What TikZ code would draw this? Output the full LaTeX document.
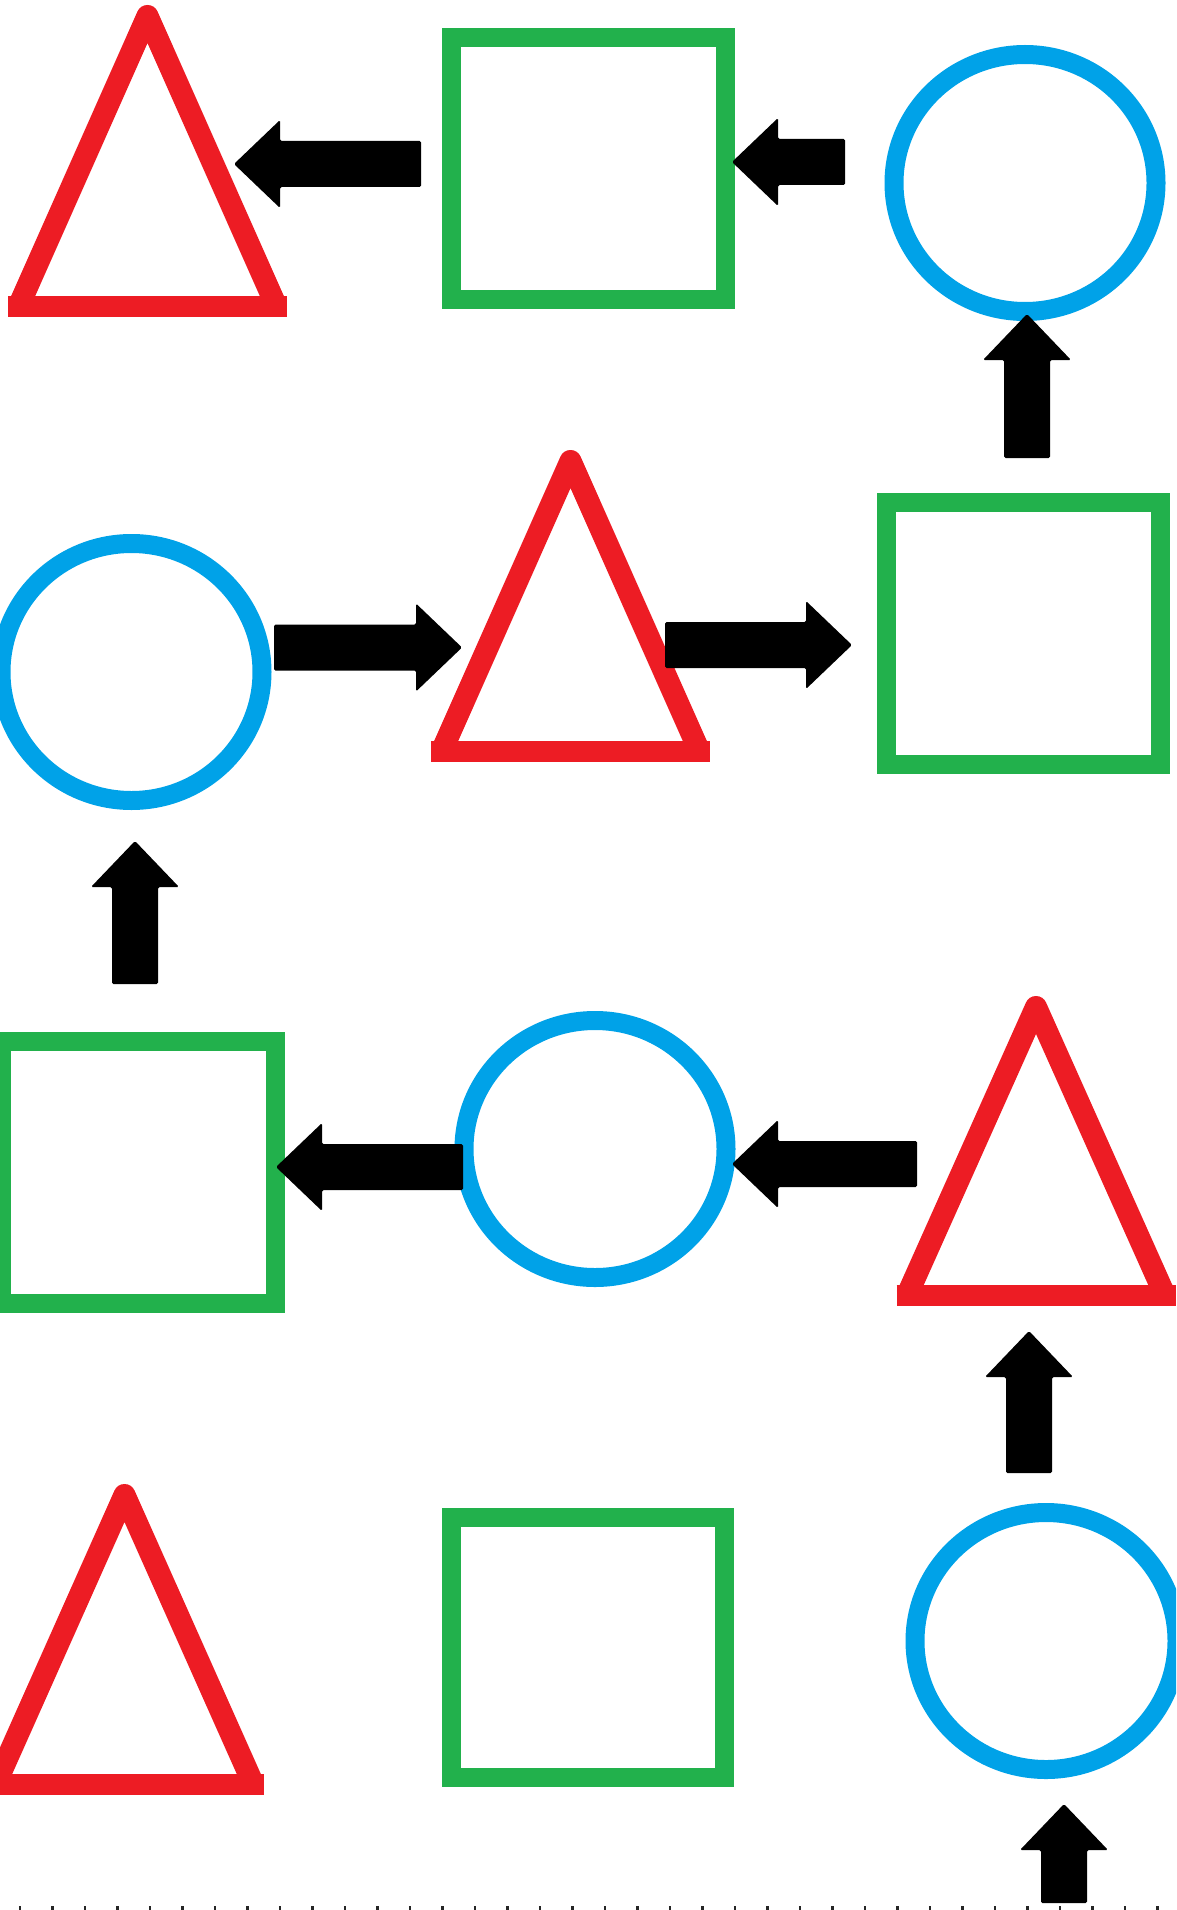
\documentclass[tikz,border=0pt]{standalone}
\usetikzlibrary{calc}
\definecolor{pred}{RGB}{237,28,36}
\definecolor{pgreen}{RGB}{34,177,76}
\definecolor{pblue}{RGB}{0,162,232}
\tikzset{
  trisides/.style={draw=pred, line width=22pt, line join=round, line cap=butt},
  tribase/.style={draw=pred, line width=21pt, line cap=butt},
  sq/.style={draw=pgreen, line width=19pt, line join=miter},
  circ/.style={draw=pblue, line width=19pt},
  pics/barrow/.style={code={
    \fill[black, rounded corners=1.5pt] (0,0) -- (-46,44) -- (-46,23) -- (-#1,23)
      -- (-#1,-23) -- (-46,-23) -- (-46,-44) -- cycle;}},
  ticks/.style={draw=black!85, line width=4pt, dash pattern=on 2.5pt off 30pt}
}
% name, centre x, outer apex y, outer base y, outer half width
\newcommand\redtri[5]{%
  \coordinate (#1) at (#2,{(#3+#4)/2});
  \draw[trisides] ({#2-#5+10.5},{#4-10.5}) -- (#2,{#3+11}) -- ({#2+#5-10.5},{#4-10.5});
  \draw[tribase] ({#2-#5},{#4-10.5}) -- ({#2+#5},{#4-10.5});
}
\begin{document}
\begin{tikzpicture}[x=1pt,y=-1pt]
\useasboundingbox (0,0) rectangle (1176,1910);
\begin{scope}
\clip (0,0) rectangle (1176,1910);
% row 1
\redtri{t1}{147.5}{5}{317}{139.5}
\draw[sq] (451.5,37.5) rectangle (725.5,299.5); \coordinate (s1) at (588.5,168.5);
\draw[circ] (1025,183) ellipse [x radius=131, y radius=128.5]; \coordinate (c1) at (1025,183);
% row 2
\draw[circ] (131.5,672) ellipse [x radius=130.5, y radius=128.5]; \coordinate (c2) at (131.5,672);
\redtri{t2}{570.5}{450}{762}{139.5}
\draw[sq] (886.5,502.5) rectangle (1160.5,764.5); \coordinate (s2) at (1023.5,633.5);
% row 3
\draw[sq] (1.5,1041.5) rectangle (275.5,1303.5); \coordinate (s3) at (138.5,1172.5);
\draw[circ] (595,1149) ellipse [x radius=131, y radius=128.5]; \coordinate (c3) at (595,1149);
\redtri{t3}{1036}{996}{1306}{139.5}
% row 4
\redtri{t4}{124.5}{1484}{1795}{139.5}
\draw[sq] (451.5,1517.5) rectangle (724.5,1777.5); \coordinate (s4) at (588,1647.5);
\draw[circ] (1046,1641) ellipse [x radius=131, y radius=128.5]; \coordinate (c4) at (1046,1641);
\end{scope}
% arrow tips
\coordinate (a1) at (234,164);
\coordinate (a2) at (732,162);
\coordinate (a3) at (1027,314);
\coordinate (a4) at (462,647.5);
\coordinate (a5) at (852,645);
\coordinate (a6) at (135,841);
\coordinate (a7) at (276,1167);
\coordinate (a8) at (732,1164);
\coordinate (a9) at (1029,1331);
\coordinate (a10) at (1064,1804);
\pic[rotate=180] at (a1) {barrow=187};
\pic[rotate=180] at (a2) {barrow=113};
\pic[rotate=90] at (a3) {barrow=144};
\pic at (a4) {barrow=188};
\pic at (a5) {barrow=187};
\pic[rotate=90] at (a6) {barrow=143};
\pic[rotate=180] at (a7) {barrow=187};
\pic[rotate=180] at (a8) {barrow=185};
\pic[rotate=90] at (a9) {barrow=142};
\pic[rotate=90] at (a10) {barrow=99};
% bottom ticks
\coordinate (tk0) at (18.75,1908);
\coordinate (tk1) at (1176,1908);
\draw[ticks] (tk0) -- (tk1);
\end{tikzpicture}
\end{document}
